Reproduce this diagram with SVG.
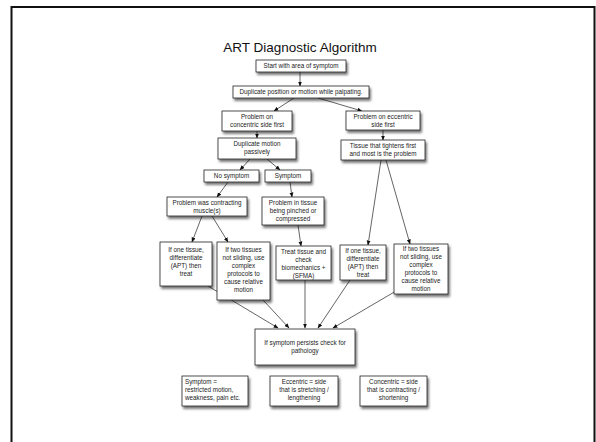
<svg xmlns="http://www.w3.org/2000/svg" width="596" height="442" viewBox="0 0 596 442">
  <style>
    .box { fill: #ffffff; stroke: #222222; stroke-width: 0.8; filter: url(#shadow); }
    .t { font-family: "Liberation Sans", Arial, sans-serif; font-size: 6.3px; fill: #1a1a1a; text-anchor: middle; }
    .tl { text-anchor: start; }
    .title { font-family: "Liberation Sans", Arial, sans-serif; font-size: 13.5px; fill: #111111; text-anchor: middle; }
    .edge { stroke: #222222; stroke-width: 0.7; fill: none; marker-end: url(#arrow); }
  </style>
  <defs>
    <filter id="shadow" x="-20%" y="-20%" width="150%" height="160%">
      <feDropShadow dx="1.5" dy="2.5" stdDeviation="1.3" flood-color="#000000" flood-opacity="0.55"/>
    </filter>
    <marker id="arrow" viewBox="0 0 10 10" refX="9" refY="5" markerWidth="5" markerHeight="5" orient="auto" markerUnits="userSpaceOnUse">
      <path d="M0,1 L10,5 L0,9 z" fill="#111111"/>
    </marker>
  </defs>

  <rect width="596" height="442" fill="#ffffff"/>
  <!-- slide frame -->
  <rect x="11.5" y="7" width="583" height="460" fill="none" stroke="#111111" stroke-width="2"/>

  <text class="title" x="300" y="52">ART Diagnostic Algorithm</text>

  <g id="connectors">
    <line class="edge" x1="300" y1="72" x2="300" y2="86"/>
    <line class="edge" x1="294" y1="98" x2="274" y2="111"/>
    <line class="edge" x1="318" y1="98" x2="362" y2="111"/>
    <line class="edge" x1="257" y1="131" x2="257" y2="138"/>
    <line class="edge" x1="383" y1="130" x2="383" y2="140"/>
    <line class="edge" x1="250" y1="159" x2="240" y2="170"/>
    <line class="edge" x1="267" y1="159" x2="280" y2="170"/>
    <line class="edge" x1="228" y1="182" x2="217" y2="197"/>
    <line class="edge" x1="290" y1="182" x2="292" y2="197"/>
    <line class="edge" x1="202" y1="216" x2="192" y2="242"/>
    <line class="edge" x1="212" y1="216" x2="228" y2="242"/>
    <line class="edge" x1="298" y1="225" x2="301" y2="246"/>
    <line class="edge" x1="381" y1="160" x2="368" y2="245"/>
    <line class="edge" x1="386" y1="160" x2="410" y2="244"/>
    <line class="edge" x1="208" y1="286" x2="278" y2="328"/>
    <line class="edge" x1="263" y1="300" x2="289" y2="328"/>
    <line class="edge" x1="305" y1="280" x2="305" y2="328"/>
    <line class="edge" x1="350" y1="280" x2="318" y2="328"/>
    <line class="edge" x1="396" y1="291" x2="333" y2="328"/>
  </g>

  <g id="start">
    <rect class="box" x="256" y="60" width="90" height="12"/>
    <text class="t" x="301" y="68.3">Start with area of symptom</text>
  </g>
  <g id="duplicate">
    <rect class="box" x="233" y="86" width="136" height="12"/>
    <text class="t" x="301" y="94.3">Duplicate position or motion while palpating.</text>
  </g>
  <g id="concentric-first">
    <rect class="box" x="222" y="111" width="70" height="20"/>
    <text class="t" x="257" y="119">Problem on</text>
    <text class="t" x="257" y="127">concentric side first</text>
  </g>
  <g id="eccentric-first">
    <rect class="box" x="346" y="111" width="74" height="19"/>
    <text class="t" x="383" y="118.5">Problem on eccentric</text>
    <text class="t" x="383" y="126.5">side first</text>
  </g>
  <g id="passive">
    <rect class="box" x="218" y="138" width="78" height="21"/>
    <text class="t" x="257" y="146">Duplicate motion</text>
    <text class="t" x="257" y="154">passively</text>
  </g>
  <g id="tightens">
    <rect class="box" x="341" y="140" width="84" height="20"/>
    <text class="t" x="383" y="148">Tissue that tightens first</text>
    <text class="t" x="383" y="156">and most is the problem</text>
  </g>
  <g id="no-symptom">
    <rect class="box" x="204" y="170" width="55" height="12"/>
    <text class="t" x="231.5" y="178.3">No symptom</text>
  </g>
  <g id="symptom">
    <rect class="box" x="265" y="170" width="46" height="12"/>
    <text class="t" x="288" y="178.3">Symptom</text>
  </g>
  <g id="contracting">
    <rect class="box" x="167" y="197" width="80" height="19"/>
    <text class="t" x="207" y="204.5">Problem was contracting</text>
    <text class="t" x="207" y="212.5">muscle(s)</text>
  </g>
  <g id="pinched">
    <rect class="box" x="262" y="197" width="62" height="28"/>
    <text class="t" x="293" y="205">Problem in tissue</text>
    <text class="t" x="293" y="213">being pinched or</text>
    <text class="t" x="293" y="221">compressed</text>
  </g>
  <g id="one-tissue-left">
    <rect class="box" x="160" y="242" width="52" height="44"/>
    <text class="t" x="186" y="252">If one tissue,</text>
    <text class="t" x="186" y="260">differentiate</text>
    <text class="t" x="186" y="268">(APT) then</text>
    <text class="t" x="186" y="276">treat</text>
  </g>
  <g id="two-tissues-left">
    <rect class="box" x="217" y="242" width="53" height="58"/>
    <text class="t" x="243.5" y="252">If two tissues</text>
    <text class="t" x="243.5" y="260">not sliding, use</text>
    <text class="t" x="243.5" y="268">complex</text>
    <text class="t" x="243.5" y="276">protocols to</text>
    <text class="t" x="243.5" y="284">cause relative</text>
    <text class="t" x="243.5" y="292">motion</text>
  </g>
  <g id="treat">
    <rect class="box" x="276" y="246" width="55" height="34"/>
    <text class="t" x="303.5" y="254">Treat tissue and</text>
    <text class="t" x="303.5" y="262">check</text>
    <text class="t" x="303.5" y="270">biomechanics +</text>
    <text class="t" x="303.5" y="278">(SFMA)</text>
  </g>
  <g id="one-tissue-right">
    <rect class="box" x="340" y="245" width="46" height="35"/>
    <text class="t" x="363" y="253">If one tissue,</text>
    <text class="t" x="363" y="261">differentiate</text>
    <text class="t" x="363" y="269">(APT) then</text>
    <text class="t" x="363" y="277">treat</text>
  </g>
  <g id="two-tissues-right">
    <rect class="box" x="394" y="244" width="54" height="50"/>
    <text class="t" x="421" y="251">If two tissues</text>
    <text class="t" x="421" y="259">not sliding, use</text>
    <text class="t" x="421" y="267">complex</text>
    <text class="t" x="421" y="275">protocols to</text>
    <text class="t" x="421" y="283">cause relative</text>
    <text class="t" x="421" y="291">motion</text>
  </g>
  <g id="pathology">
    <rect class="box" x="255" y="329" width="100" height="36"/>
    <text class="t" x="305" y="345">If symptom persists check for</text>
    <text class="t" x="305" y="353">pathology</text>
  </g>
  <g id="legend-symptom">
    <rect class="box" x="182" y="376" width="66" height="30"/>
    <text class="t tl" x="185" y="384">Symptom =</text>
    <text class="t tl" x="185" y="392">restricted motion,</text>
    <text class="t tl" x="185" y="400">weakness, pain etc.</text>
  </g>
  <g id="legend-eccentric">
    <rect class="box" x="270" y="376" width="68" height="30"/>
    <text class="t" x="304" y="384">Eccentric = side</text>
    <text class="t" x="304" y="392">that is stretching /</text>
    <text class="t" x="304" y="400">lengthening</text>
  </g>
  <g id="legend-concentric">
    <rect class="box" x="360" y="376" width="67" height="30"/>
    <text class="t" x="393.5" y="384">Concentric = side</text>
    <text class="t" x="393.5" y="392">that is contracting /</text>
    <text class="t" x="393.5" y="400">shortening</text>
  </g>
</svg>
